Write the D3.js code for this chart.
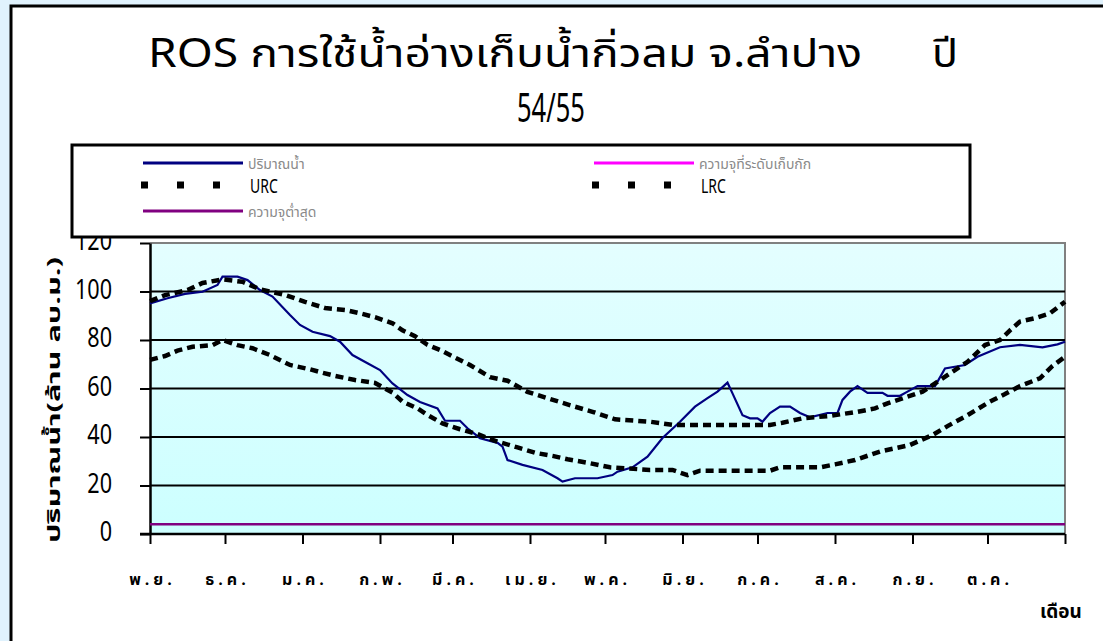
<!DOCTYPE html>
<html>
<head>
<meta charset="utf-8">
<script src="https://cdn.jsdelivr.net/npm/d3@7"></script>
<style>
  html, body { margin: 0; padding: 0; background: #e0f2fd; overflow: hidden; }
  svg { display: block; }
  text { font-family: "Noto Sans Thai", "Noto Sans", "Liberation Sans", "DejaVu Sans", sans-serif; }
</style>
</head>
<body>
<svg id="chart" width="1103" height="641"></svg>
<script>
// Month labels along the time axis (water year Nov 2011 - Oct 2012)
const monthLabels = ["พ.ย.", "ธ.ค.", "ม.ค.", "ก.พ.", "มี.ค.", "เม.ย.", "พ.ค.", "มิ.ย.", "ก.ค.", "ส.ค.", "ก.ย.", "ต.ค."];
const yTicks = [0, 20, 40, 60, 80, 100, 120];

// Storage actually in the reservoir (million m3)
const storageDates = ["2011-11-01","2011-11-08","2011-11-15","2011-11-22","2011-11-28","2011-11-30","2011-12-06","2011-12-10","2011-12-15","2011-12-20","2011-12-27","2011-12-31","2012-01-05","2012-01-12","2012-01-16","2012-01-21","2012-01-27","2012-02-01","2012-02-06","2012-02-12","2012-02-17","2012-02-24","2012-02-27","2012-03-04","2012-03-07","2012-03-12","2012-03-19","2012-03-21","2012-03-23","2012-03-29","2012-04-06","2012-04-12","2012-04-14","2012-04-19","2012-04-28","2012-05-04","2012-05-06","2012-05-12","2012-05-18","2012-05-24","2012-05-31","2012-06-06","2012-06-11","2012-06-15","2012-06-19","2012-06-21","2012-06-25","2012-06-28","2012-07-01","2012-07-03","2012-07-06","2012-07-10","2012-07-14","2012-07-18","2012-07-22","2012-07-29","2012-08-02","2012-08-04","2012-08-07","2012-08-10","2012-08-14","2012-08-20","2012-08-22","2012-08-27","2012-08-30","2012-09-03","2012-09-10","2012-09-14","2012-09-22","2012-09-27","2012-10-06","2012-10-14","2012-10-23","2012-10-29","2012-11-01"];
const storageValues = [95.1,97.2,99,99.9,102.7,106.1,106.1,104.7,100.6,97.9,90.3,86.2,83.4,81.6,79.3,73.8,70.4,67.6,62.1,57.3,54.4,51.8,46.7,46.7,43.6,39.5,37.6,36,30.5,28.5,26.4,23,21.6,23,23,24.3,25.7,27.5,31.9,39.6,46.3,52.5,56,58.7,62.4,58,49,47.7,47.7,46.3,49.9,52.5,52.5,49.9,48.1,49.9,49.9,55.3,58.7,61,58.2,58.2,57,57,58.7,61,61,68.3,69.7,73.1,77,78,77,78.2,79.3];

// Upper rule curve
const urcDates = ["2011-11-01","2011-11-07","2011-11-16","2011-11-22","2011-11-30","2011-12-08","2011-12-15","2011-12-25","2012-01-02","2012-01-10","2012-01-18","2012-01-24","2012-01-30","2012-02-06","2012-02-10","2012-02-15","2012-02-20","2012-02-25","2012-02-29","2012-03-08","2012-03-16","2012-03-23","2012-03-31","2012-04-08","2012-04-13","2012-04-19","2012-04-26","2012-05-05","2012-05-19","2012-05-28","2012-06-16","2012-07-06","2012-07-11","2012-07-19","2012-07-30","2012-08-10","2012-08-17","2012-08-22","2012-08-28","2012-09-05","2012-09-12","2012-09-18","2012-09-23","2012-09-30","2012-10-06","2012-10-10","2012-10-14","2012-10-20","2012-10-26","2012-11-01"];
const urcValues = [96,98.5,100.6,103.5,105,104,100.9,98.6,95.7,93.2,92.4,91,89.4,86.9,84,81.6,78,75.9,73.8,69.7,64.7,63.2,58.6,56,54.4,52.5,50.4,47.3,46.3,45,45,45,45.9,47.7,48.7,50.4,51.8,53.9,55.9,58.7,63.5,67.6,71,77.9,80,84,87.6,89,91,95.8];

// Lower rule curve
const lrcDates = ["2011-11-01","2011-11-07","2011-11-12","2011-11-18","2011-11-26","2011-11-30","2011-12-06","2011-12-12","2011-12-19","2011-12-27","2012-01-04","2012-01-09","2012-01-14","2012-01-22","2012-01-30","2012-02-06","2012-02-10","2012-02-16","2012-02-20","2012-02-26","2012-03-04","2012-03-11","2012-03-15","2012-03-19","2012-03-27","2012-04-03","2012-04-10","2012-04-16","2012-04-24","2012-05-03","2012-05-19","2012-05-28","2012-06-03","2012-06-08","2012-07-06","2012-07-10","2012-07-26","2012-08-01","2012-08-09","2012-08-19","2012-08-31","2012-09-09","2012-09-15","2012-09-23","2012-10-02","2012-10-08","2012-10-14","2012-10-22","2012-10-27","2012-11-01"];
const lrcValues = [71.8,73.4,75.6,77.2,77.9,80,77.9,76.6,73.8,69.7,67.9,66.5,65.2,63.5,62.3,58.3,54.6,51.8,49.1,45.6,43.2,41.2,39.6,38.1,35.7,33.5,32.2,30.8,29.4,27.5,26.4,26.4,24.3,26.1,26.1,27.5,27.5,28.7,30.5,34,36.7,40.8,44.5,49,54.6,57.7,61,64.2,69.3,73.1];

// Dead storage (minimum capacity)
const minCapacity = 4;

const parse = d3.utcParse("%Y-%m-%d");
const toPoints = (ds, vs) => ds.map((d, i) => ({ date: parse(d), value: vs[i] }));
const storage = toPoints(storageDates, storageValues);
const urc = toPoints(urcDates, urcValues);
const lrc = toPoints(lrcDates, lrcValues);

const svg = d3.select("#chart");
const W = 1103, H = 641;
const plot = { left: 150, right: 1065, top: 243, bottom: 534 };

const x = d3.scaleUtc()
  .domain([parse("2011-11-01"), parse("2012-11-01")])
  .range([plot.left, plot.right]);
const y = d3.scaleLinear().domain([0, 120]).range([plot.bottom, plot.top]);

// White chart panel with black frame
svg.append("rect").attr("x", 11).attr("y", 6).attr("width", W + 20).attr("height", H + 20)
  .attr("fill", "#ffffff").attr("stroke", "#000").attr("stroke-width", 3);

// Plot area background gradient
const defs = svg.append("defs");
const grad = defs.append("linearGradient").attr("id", "plotBg").attr("x1", 0).attr("y1", 0).attr("x2", 0).attr("y2", 1);
grad.append("stop").attr("offset", "0%").attr("stop-color", "#e4feff");
grad.append("stop").attr("offset", "100%").attr("stop-color", "#ccffff");
svg.append("rect").attr("x", plot.left).attr("y", plot.top)
  .attr("width", plot.right - plot.left).attr("height", plot.bottom - plot.top)
  .attr("fill", "url(#plotBg)");

// Plot area frame (top and right)
svg.append("path")
  .attr("d", `M${plot.left},${plot.top}H${plot.right}V${plot.bottom}`)
  .attr("fill", "none").attr("stroke", "#808080").attr("stroke-width", 2);

// Horizontal gridlines
svg.append("g").selectAll("line").data(yTicks.filter(v => v > 0 && v < 120)).join("line")
  .attr("x1", plot.left).attr("x2", plot.right)
  .attr("y1", d => y(d)).attr("y2", d => y(d))
  .attr("stroke", "#000").attr("stroke-width", 2);

// Y axis
const yAxis = svg.append("g").attr("transform", `translate(${plot.left},0)`)
  .call(d3.axisLeft(y).tickValues(yTicks).tickSize(10).tickSizeOuter(0));
yAxis.select(".domain").attr("stroke-width", 2.5);
yAxis.selectAll(".tick line").attr("stroke-width", 2);
yAxis.selectAll(".tick text")
  .attr("x", null).attr("dy", null).attr("y", 6.5)
  .attr("transform", "translate(-38,0) scale(0.8,1)")
  .attr("font-family", "'Liberation Sans', Arial, sans-serif")
  .attr("font-size", 27).attr("fill", "#000");

// X axis
const xAxis = svg.append("g").attr("transform", `translate(0,${plot.bottom})`)
  .call(d3.axisBottom(x).ticks(d3.utcMonth.every(1)).tickSize(10).tickSizeOuter(0)
    .tickFormat((d, i) => monthLabels[i] || ""));
xAxis.select(".domain").attr("d", `M${plot.left - 10},0H${plot.right}`).attr("stroke-width", 2.5);
xAxis.selectAll(".tick line").attr("stroke-width", 2);
xAxis.selectAll(".tick text")
  .attr("y", 51).attr("dy", null).attr("dx", 2)
  .attr("font-size", 16).attr("font-weight", "bold")
  .attr("letter-spacing", 4).attr("fill", "#000");

// Series
const line = d3.line().x(d => x(d.date)).y(d => y(d.value));
svg.append("path").datum(storage).attr("d", line)
  .attr("fill", "none").attr("stroke", "#000080").attr("stroke-width", 2.2);
svg.append("path").datum(urc).attr("d", line)
  .attr("fill", "none").attr("stroke", "#000").attr("stroke-width", 4.5).attr("stroke-dasharray", "8,5");
svg.append("path").datum(lrc).attr("d", line)
  .attr("fill", "none").attr("stroke", "#000").attr("stroke-width", 4.5).attr("stroke-dasharray", "8,5");
svg.append("line")
  .attr("x1", plot.left).attr("x2", plot.right)
  .attr("y1", y(minCapacity)).attr("y2", y(minCapacity))
  .attr("stroke", "#800080").attr("stroke-width", 2.5);

// Axis titles
svg.append("text")
  .attr("transform", "translate(60,400) rotate(-90)")
  .attr("text-anchor", "middle").attr("font-size", 18).attr("font-weight", "bold")
  .attr("textLength", 286).attr("lengthAdjust", "spacingAndGlyphs")
  .text("ปริมาณน้ำ(ล้าน ลบ.ม.)");
svg.append("text").attr("x", 1040).attr("y", 618)
  .attr("font-size", 19).attr("font-weight", "bold").text("เดือน");

// Title (condensed lettering)
svg.append("text").attr("x", 148).attr("y", 67)
  .attr("font-size", 40).attr("textLength", 714).attr("lengthAdjust", "spacingAndGlyphs")
  .text("ROS การใช้น้ำอ่างเก็บน้ำกิ่วลม จ.ลำปาง");
svg.append("text").attr("x", 932).attr("y", 67)
  .attr("font-size", 40).attr("textLength", 26).attr("lengthAdjust", "spacingAndGlyphs")
  .text("ปี");
svg.append("text").attr("x", 517).attr("y", 122)
  .attr("font-size", 40).attr("textLength", 68).attr("lengthAdjust", "spacingAndGlyphs")
  .text("54/55");

// Legend
const legend = svg.append("g");
legend.append("rect").attr("x", 72).attr("y", 145).attr("width", 898).attr("height", 92)
  .attr("fill", "#fff").attr("stroke", "#000").attr("stroke-width", 3);
const legendItems = [
  { label: "ปริมาณน้ำ", x: 143, y: 163, color: "#000080", dashed: false, textColor: "#8a8a8a" },
  { label: "ความจุที่ระดับเก็บกัก", x: 594, y: 163, color: "#ff00ff", dashed: false, textColor: "#8a8a8a" },
  { label: "URC", x: 143, y: 185, color: "#000", dashed: true, textColor: "#000" },
  { label: "LRC", x: 594, y: 185, color: "#000", dashed: true, textColor: "#000" },
  { label: "ความจุต่ำสุด", x: 143, y: 211, color: "#800080", dashed: false, textColor: "#8a8a8a" }
];
legendItems.forEach(it => {
  if (it.dashed) {
    legend.append("line").attr("x1", it.x - 2).attr("x2", it.x + 78)
      .attr("y1", it.y).attr("y2", it.y)
      .attr("stroke", it.color).attr("stroke-width", 7).attr("stroke-dasharray", "7,29");
    legend.append("text").attr("x", it.x + 107).attr("y", it.y + 8)
      .attr("font-size", 20).attr("fill", it.textColor)
      .attr("font-family", "'Liberation Sans', Arial, sans-serif")
      .attr("transform", `translate(${(it.x + 107) * 0.3},0) scale(0.7,1)`)
      .text(it.label);
  } else {
    legend.append("line").attr("x1", it.x).attr("x2", it.x + 100)
      .attr("y1", it.y).attr("y2", it.y)
      .attr("stroke", it.color).attr("stroke-width", 3);
    legend.append("text").attr("x", it.x + 105).attr("y", it.y + 6)
      .attr("font-size", 14).attr("fill", it.textColor).text(it.label);
  }
});
</script>
</body>
</html>
